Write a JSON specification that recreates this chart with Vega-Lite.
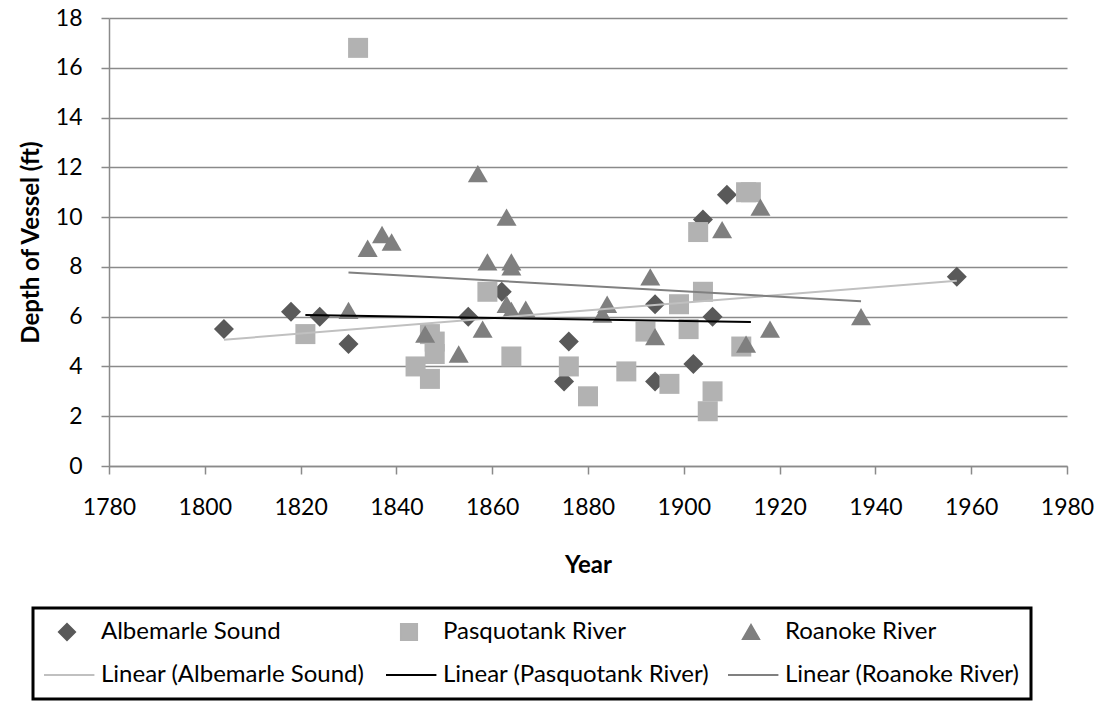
{
  "$schema": "https://vega.github.io/schema/vega-lite/v6.json",
  "width": 958,
  "height": 448,
  "autosize": {"type": "none"},
  "padding": {"left": 109, "top": 18, "right": 35, "bottom": 236},
  "background": "white",
  "config": {
    "view": {"stroke": null},
    "font": "Lato",
    "axis": {
      "labelFont": "Lato",
      "labelFontSize": 23,
      "labelColor": "#000000",
      "titleFont": "Lato",
      "titleFontSize": 24,
      "titleFontWeight": "bold",
      "titleColor": "#000000",
      "domainColor": "#8a8a8a",
      "domainWidth": 1.5,
      "tickColor": "#8a8a8a",
      "tickWidth": 1.5,
      "tickSize": 8,
      "gridColor": "#8a8a8a",
      "gridWidth": 1.5
    }
  },
  "data": {
    "values": [
      {"year": 1804, "depth": 5.5, "series": "Albemarle Sound", "trend": "Linear (Albemarle Sound)"},
      {"year": 1818, "depth": 6.2, "series": "Albemarle Sound", "trend": "Linear (Albemarle Sound)"},
      {"year": 1824, "depth": 6.0, "series": "Albemarle Sound", "trend": "Linear (Albemarle Sound)"},
      {"year": 1830, "depth": 4.9, "series": "Albemarle Sound", "trend": "Linear (Albemarle Sound)"},
      {"year": 1855, "depth": 6.0, "series": "Albemarle Sound", "trend": "Linear (Albemarle Sound)"},
      {"year": 1862, "depth": 7.0, "series": "Albemarle Sound", "trend": "Linear (Albemarle Sound)"},
      {"year": 1875, "depth": 3.4, "series": "Albemarle Sound", "trend": "Linear (Albemarle Sound)"},
      {"year": 1876, "depth": 5.0, "series": "Albemarle Sound", "trend": "Linear (Albemarle Sound)"},
      {"year": 1894, "depth": 6.5, "series": "Albemarle Sound", "trend": "Linear (Albemarle Sound)"},
      {"year": 1894, "depth": 3.4, "series": "Albemarle Sound", "trend": "Linear (Albemarle Sound)"},
      {"year": 1902, "depth": 4.1, "series": "Albemarle Sound", "trend": "Linear (Albemarle Sound)"},
      {"year": 1904, "depth": 9.9, "series": "Albemarle Sound", "trend": "Linear (Albemarle Sound)"},
      {"year": 1906, "depth": 6.0, "series": "Albemarle Sound", "trend": "Linear (Albemarle Sound)"},
      {"year": 1909, "depth": 10.9, "series": "Albemarle Sound", "trend": "Linear (Albemarle Sound)"},
      {"year": 1957, "depth": 7.6, "series": "Albemarle Sound", "trend": "Linear (Albemarle Sound)"},
      {"year": 1821, "depth": 5.3, "series": "Pasquotank River", "trend": "Linear (Pasquotank River)"},
      {"year": 1832, "depth": 16.8, "series": "Pasquotank River", "trend": "Linear (Pasquotank River)"},
      {"year": 1844, "depth": 4.0, "series": "Pasquotank River", "trend": "Linear (Pasquotank River)"},
      {"year": 1847, "depth": 3.5, "series": "Pasquotank River", "trend": "Linear (Pasquotank River)"},
      {"year": 1847, "depth": 5.3, "series": "Pasquotank River", "trend": "Linear (Pasquotank River)"},
      {"year": 1848, "depth": 5.0, "series": "Pasquotank River", "trend": "Linear (Pasquotank River)"},
      {"year": 1848, "depth": 4.5, "series": "Pasquotank River", "trend": "Linear (Pasquotank River)"},
      {"year": 1859, "depth": 7.0, "series": "Pasquotank River", "trend": "Linear (Pasquotank River)"},
      {"year": 1864, "depth": 4.4, "series": "Pasquotank River", "trend": "Linear (Pasquotank River)"},
      {"year": 1876, "depth": 4.0, "series": "Pasquotank River", "trend": "Linear (Pasquotank River)"},
      {"year": 1880, "depth": 2.8, "series": "Pasquotank River", "trend": "Linear (Pasquotank River)"},
      {"year": 1888, "depth": 3.8, "series": "Pasquotank River", "trend": "Linear (Pasquotank River)"},
      {"year": 1892, "depth": 5.4, "series": "Pasquotank River", "trend": "Linear (Pasquotank River)"},
      {"year": 1897, "depth": 3.3, "series": "Pasquotank River", "trend": "Linear (Pasquotank River)"},
      {"year": 1899, "depth": 6.5, "series": "Pasquotank River", "trend": "Linear (Pasquotank River)"},
      {"year": 1901, "depth": 5.5, "series": "Pasquotank River", "trend": "Linear (Pasquotank River)"},
      {"year": 1903, "depth": 9.4, "series": "Pasquotank River", "trend": "Linear (Pasquotank River)"},
      {"year": 1904, "depth": 7.0, "series": "Pasquotank River", "trend": "Linear (Pasquotank River)"},
      {"year": 1905, "depth": 2.2, "series": "Pasquotank River", "trend": "Linear (Pasquotank River)"},
      {"year": 1906, "depth": 3.0, "series": "Pasquotank River", "trend": "Linear (Pasquotank River)"},
      {"year": 1912, "depth": 4.8, "series": "Pasquotank River", "trend": "Linear (Pasquotank River)"},
      {"year": 1913, "depth": 11.0, "series": "Pasquotank River", "trend": "Linear (Pasquotank River)"},
      {"year": 1914, "depth": 11.0, "series": "Pasquotank River", "trend": "Linear (Pasquotank River)"},
      {"year": 1830, "depth": 6.25, "series": "Roanoke River", "trend": "Linear (Roanoke River)"},
      {"year": 1834, "depth": 8.75, "series": "Roanoke River", "trend": "Linear (Roanoke River)"},
      {"year": 1837, "depth": 9.3, "series": "Roanoke River", "trend": "Linear (Roanoke River)"},
      {"year": 1839, "depth": 9.0, "series": "Roanoke River", "trend": "Linear (Roanoke River)"},
      {"year": 1846, "depth": 5.3, "series": "Roanoke River", "trend": "Linear (Roanoke River)"},
      {"year": 1853, "depth": 4.5, "series": "Roanoke River", "trend": "Linear (Roanoke River)"},
      {"year": 1857, "depth": 11.75, "series": "Roanoke River", "trend": "Linear (Roanoke River)"},
      {"year": 1858, "depth": 5.5, "series": "Roanoke River", "trend": "Linear (Roanoke River)"},
      {"year": 1859, "depth": 8.2, "series": "Roanoke River", "trend": "Linear (Roanoke River)"},
      {"year": 1863, "depth": 10.0, "series": "Roanoke River", "trend": "Linear (Roanoke River)"},
      {"year": 1863, "depth": 6.5, "series": "Roanoke River", "trend": "Linear (Roanoke River)"},
      {"year": 1864, "depth": 8.2, "series": "Roanoke River", "trend": "Linear (Roanoke River)"},
      {"year": 1864, "depth": 8.0, "series": "Roanoke River", "trend": "Linear (Roanoke River)"},
      {"year": 1864, "depth": 6.25, "series": "Roanoke River", "trend": "Linear (Roanoke River)"},
      {"year": 1867, "depth": 6.3, "series": "Roanoke River", "trend": "Linear (Roanoke River)"},
      {"year": 1883, "depth": 6.1, "series": "Roanoke River", "trend": "Linear (Roanoke River)"},
      {"year": 1884, "depth": 6.5, "series": "Roanoke River", "trend": "Linear (Roanoke River)"},
      {"year": 1893, "depth": 7.6, "series": "Roanoke River", "trend": "Linear (Roanoke River)"},
      {"year": 1894, "depth": 5.2, "series": "Roanoke River", "trend": "Linear (Roanoke River)"},
      {"year": 1908, "depth": 9.5, "series": "Roanoke River", "trend": "Linear (Roanoke River)"},
      {"year": 1913, "depth": 4.9, "series": "Roanoke River", "trend": "Linear (Roanoke River)"},
      {"year": 1916, "depth": 10.4, "series": "Roanoke River", "trend": "Linear (Roanoke River)"},
      {"year": 1918, "depth": 5.5, "series": "Roanoke River", "trend": "Linear (Roanoke River)"},
      {"year": 1937, "depth": 6.0, "series": "Roanoke River", "trend": "Linear (Roanoke River)"}
    ]
  },
  "layer": [
    {
      "mark": {"type": "point", "filled": true, "size": 400, "opacity": 1},
      "encoding": {
        "x": {
          "field": "year", "type": "quantitative",
          "scale": {"domain": [1780, 1980], "nice": false, "zero": false},
          "axis": {"title": "Year", "values": [1780, 1800, 1820, 1840, 1860, 1880, 1900, 1920, 1940, 1960, 1980], "format": "d", "grid": false, "labelPadding": 22, "titlePadding": 34, "labelFlush": false}
        },
        "y": {
          "field": "depth", "type": "quantitative",
          "scale": {"domain": [0, 18], "nice": false},
          "axis": {"title": "Depth of Vessel (ft)", "values": [0, 2, 4, 6, 8, 10, 12, 14, 16, 18], "grid": true, "labelPadding": 19, "titlePadding": 12, "labelFlush": false}
        },
        "color": {
          "field": "series", "type": "nominal",
          "scale": {
            "domain": ["Albemarle Sound", "Pasquotank River", "Roanoke River", "Linear (Albemarle Sound)", "Linear (Pasquotank River)", "Linear (Roanoke River)"],
            "range": ["#595959", "#b2b2b2", "#7f7f7f", "#c0c0c0", "#000000", "#808080"]
          },
          "legend": {
            "title": null,
            "orient": "none",
            "legendX": -76,
            "legendY": 590,
            "columns": 3,
            "direction": "horizontal",
            "gridAlign": "all",
            "columnPadding": 18,
            "rowPadding": 17,
            "clipHeight": 26,
            "padding": 11,
            "strokeColor": "#000000",
            "fillColor": "#ffffff",
            "labelFont": "Lato",
            "labelFontSize": 24,
            "labelColor": "#000000",
            "symbolOffset": 11,
            "labelOffset": 22,
            "labelLimit": 400,
            "symbolSize": 260,
            "symbolStrokeWidth": 2,
            "symbolOpacity": 1,
            "encode": {
              "legend": {
                "update": {"strokeWidth": {"value": 3}}
              },
              "symbols": {
                "update": {
                  "fill": {"scale": "color", "field": "value"},
                  "stroke": {"scale": "color", "field": "value"},
                  "opacity": {"value": 1}
                }
              }
            }
          }
        },
        "shape": {
          "field": "series", "type": "nominal",
          "scale": {
            "domain": ["Albemarle Sound", "Pasquotank River", "Roanoke River", "Linear (Albemarle Sound)", "Linear (Pasquotank River)", "Linear (Roanoke River)"],
            "range": ["diamond", "square", "triangle-up", "M-3.4,0H3.4", "M-3.4,0H3.4", "M-3.4,0H3.4"]
          }
        }
      }
    },
    {
      "transform": [
        {"regression": "depth", "on": "year", "groupby": ["trend"]}
      ],
      "mark": {"type": "line", "strokeWidth": 2},
      "encoding": {
        "x": {"field": "year", "type": "quantitative"},
        "y": {"field": "depth", "type": "quantitative"},
        "color": {"field": "trend", "type": "nominal"},
        "detail": {"field": "trend", "type": "nominal"}
      }
    }
  ]
}
